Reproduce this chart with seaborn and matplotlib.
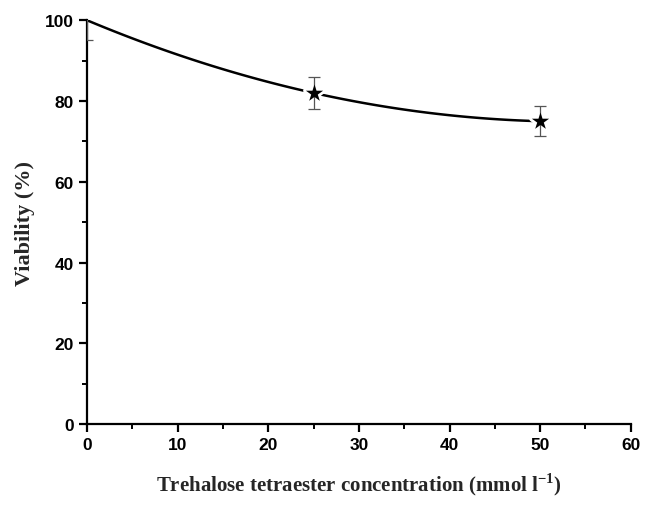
import numpy as np
import matplotlib
matplotlib.use("Agg")
import matplotlib.pyplot as plt
import seaborn as sns
from matplotlib.ticker import MultipleLocator

# data
concentration = [0, 25, 50]
viability = [100, 82, 75]
viability_err = [5, 4, 3.7]

sns.set_style("ticks")
plt.rcParams["mathtext.fontset"] = "custom"
plt.rcParams["mathtext.bf"] = "Liberation Serif:bold"
plt.rcParams["mathtext.rm"] = "Liberation Serif:bold"

fig = plt.figure(figsize=(6.64, 5.06), dpi=100)
ax = fig.add_axes([0.131, 0.160, 0.819, 0.798])

# smooth fitted curve through the points
sns.regplot(x=concentration, y=viability, order=2, ci=None, scatter=False,
            truncate=True, ax=ax, line_kws={"color": "black", "lw": 1.8})

# white halo around the stars breaks the curve, then error bars, then stars
sns.scatterplot(x=concentration[1:], y=viability[1:], marker="*", s=170,
                color="white", edgecolor="white", linewidth=4, ax=ax, zorder=3)
ax.errorbar(concentration, viability, yerr=viability_err, fmt="none",
            ecolor="#555555", elinewidth=0.9, capsize=4.5, capthick=0.9, zorder=4)
sns.scatterplot(x=concentration[1:], y=viability[1:], marker="*", s=170,
                color="black", linewidth=0, ax=ax, zorder=5)

ax.set_xlim(0, 60)
ax.set_ylim(0, 100)
ax.xaxis.set_major_locator(MultipleLocator(10))
ax.xaxis.set_minor_locator(MultipleLocator(5))
ax.yaxis.set_major_locator(MultipleLocator(20))
ax.yaxis.set_minor_locator(MultipleLocator(10))

sns.despine(ax=ax)
for side in ["left", "bottom"]:
    ax.spines[side].set_linewidth(1.6)
    ax.spines[side].set_color("black")
ax.tick_params(which="major", direction="out", length=6, width=1.6, colors="black")
ax.tick_params(which="minor", direction="out", length=3.5, width=1.4, colors="black")

for lab in ax.get_xticklabels() + ax.get_yticklabels():
    lab.set_family("Liberation Sans")
    lab.set_fontweight("bold")
    lab.set_fontsize(12.5)

ax.set_xlabel("Trehalose tetraester concentration (mmol l$^{\\mathbf{-1}}$)",
              family="Liberation Serif", fontweight="bold", fontsize=15, labelpad=13)
ax.set_ylabel("Viability (%)", family="Liberation Serif", fontweight="bold",
              fontsize=16, labelpad=7)

fig.savefig("out.png", dpi=100, facecolor="white")
